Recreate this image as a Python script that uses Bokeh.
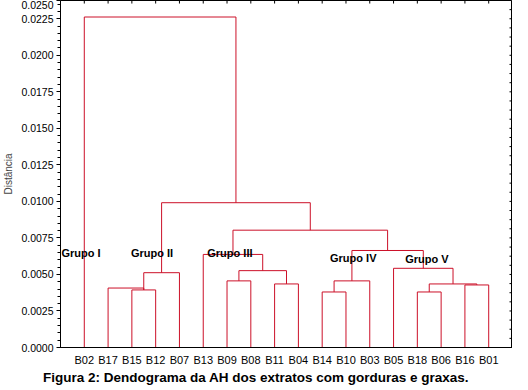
from bokeh.plotting import figure
from bokeh.models import (Range1d, LinearAxis, FixedTicker, Label, Div)
from bokeh.layouts import column
from bokeh.embed import file_html
from bokeh.resources import INLINE

# ---- data ----
leaves = ["B02", "B17", "B15", "B12", "B07", "B13", "B09", "B08", "B11",
          "B04", "B14", "B10", "B03", "B05", "B18", "B06", "B16", "B01"]
# merges: (left member, right member, new cluster name, height)
merge_left = ["B15", "B17", "c1", "B09", "B11", "c4", "B13", "B14", "c8",
              "B18", "B16", "c10", "B05", "c9", "c7", "c3", "B02"]
merge_right = ["B12", "c1", "B07", "B08", "B04", "c5", "c6", "B10", "B03",
               "B06", "B01", "c11", "c12", "c13", "c14", "c15", "c16"]
merge_name = ["c1", "c2", "c3", "c4", "c5", "c6", "c7", "c8", "c9",
              "c10", "c11", "c12", "c13", "c14", "c15", "c16", "c17"]
merge_height = [0.00394, 0.00407, 0.00512, 0.00456, 0.00435, 0.00526, 0.00637,
                0.00380, 0.00456, 0.00380, 0.00428, 0.00435, 0.00542, 0.00664,
                0.00803, 0.00991, 0.02262]
group_labels = ["Grupo I", "Grupo II", "Grupo III", "Grupo IV", "Grupo V"]
y_ticks = [0.0, 0.0025, 0.0050, 0.0075, 0.0100, 0.0125, 0.0150, 0.0175,
           0.0200, 0.0225]
y_tick_labels = ["0.0000", "0.0025", "0.0050", "0.0075", "0.0100", "0.0125",
                 "0.0150", "0.0175", "0.0200", "0.0225"]
y_top = 0.02375
y_top_label = "0.0250"
title_text = "Figura 2: Dendograma da AH dos extratos com gorduras e graxas."

RED = "#cc1028"
FONT = "Liberation Sans"

# ---- compute dendrogram geometry ----
pos = {name: float(i) for i, name in enumerate(leaves)}
hgt = {name: 0.0 for name in leaves}
xs, ys = [], []
for l, r, n, h in zip(merge_left, merge_right, merge_name, merge_height):
    xl, xr = pos[l], pos[r]
    xs.append([xl, xl, xr, xr])
    ys.append([hgt[l], h, h, hgt[r]])
    pos[n] = (xl + xr) / 2.0
    hgt[n] = h

x_end = len(leaves)
p = figure(width=512, height=368, output_backend="svg", toolbar_location=None,
           x_range=Range1d(-1, x_end), y_range=Range1d(0, y_top),
           min_border_left=55, min_border_right=0, min_border_top=0,
           min_border_bottom=0, x_axis_location=None, y_axis_location=None,
           margin=(0, 0, 0, 0))
p.grid.visible = False
p.outline_line_color = "black"
p.outline_line_width = 1
p.background_fill_color = "white"
p.border_fill_color = "white"

p.multi_line(xs=xs, ys=ys, line_color=RED, line_width=1)

# pixel -> data conversions (frame approx. 450 px wide, 342 px tall)
px_x = (x_end + 1) / 450.0
px_y = y_top / 342.0

# inner ticks on top frame edge (at leaf positions) and right edge
top_ticks = list(range(len(leaves)))
p.segment(x0=top_ticks, x1=top_ticks, y0=[y_top] * len(top_ticks),
          y1=[y_top - 3 * px_y] * len(top_ticks), line_color="black", line_width=1)
right_ticks = [i * 0.000625 for i in range(39)]
p.segment(x0=[x_end] * len(right_ticks), x1=[x_end - 3 * px_x] * len(right_ticks),
          y0=right_ticks, y1=right_ticks, line_color="black", line_width=1)

# left axis
yax = LinearAxis(axis_label="Distância")
yax.ticker = FixedTicker(ticks=y_ticks + [y_top],
                         minor_ticks=[i * 0.0005 for i in range(48)])
yax.major_label_overrides = {**{t: s for t, s in zip(y_ticks, y_tick_labels)},
                             y_top: y_top_label}
yax.major_label_text_font = FONT
yax.major_label_text_font_size = "10.5px"
yax.major_label_text_color = "black"
yax.axis_label_text_font = FONT
yax.axis_label_text_font_size = "10px"
yax.axis_label_text_font_style = "normal"
yax.axis_label_standoff = 4
yax.major_tick_out = 4
yax.major_tick_in = 0
yax.minor_tick_out = 3
yax.minor_tick_in = 0
yax.major_label_standoff = 3
yax.axis_line_color = "black"
p.add_layout(yax, "left")

# bottom axis
xax = LinearAxis()
xax.ticker = FixedTicker(ticks=list(range(len(leaves))), minor_ticks=[])
xax.major_label_overrides = {i: s for i, s in enumerate(leaves)}
xax.major_label_text_font = FONT
xax.major_label_text_font_size = "11px"
xax.major_label_text_color = "black"
xax.major_tick_out = 0
xax.major_tick_in = 0
xax.minor_tick_out = 0
xax.major_label_standoff = 6
p.add_layout(xax, "below")

# group labels
gx = [-0.96, 1.96, 5.17, 10.33, 13.49]
gy = [0.00648, 0.00648, 0.00646, 0.00613, 0.00606]
for txt, x, y in zip(group_labels, gx, gy):
    p.add_layout(Label(x=x, y=y, text=txt, text_font=FONT, text_font_size="11px",
                       text_font_style="bold", text_baseline="middle",
                       text_align="left", text_color="black"))

# caption below the chart
caption = Div(text=title_text, width=512, height=6, margin=(0, 0, 0, 0),
              styles={"font-family": FONT, "font-size": "13.5px",
                      "font-weight": "bold", "line-height": "13px",
                      "padding-left": "43px", "white-space": "nowrap",
                      "color": "black", "overflow": "visible",
                      "position": "relative", "top": "3px"})

layout = column(p, caption, spacing=0)
open("out.html", "w").write(file_html(layout, INLINE))
